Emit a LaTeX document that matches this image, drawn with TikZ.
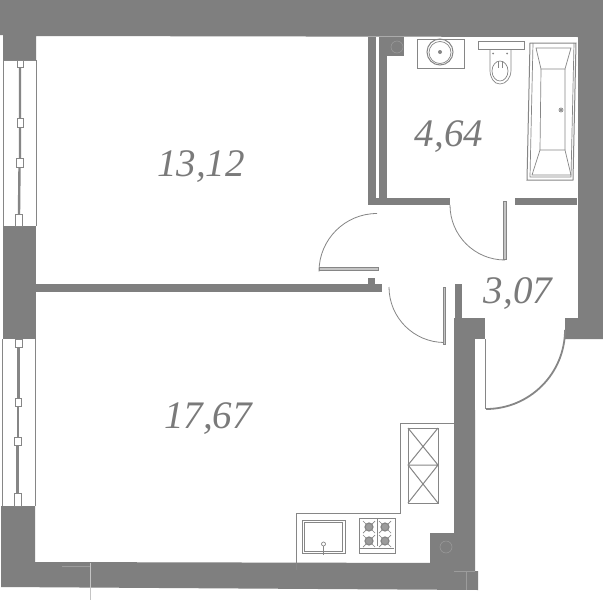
\documentclass[tikz,border=0pt]{standalone}
\usepackage{fontspec}
\setmainfont{Liberation Serif}
\definecolor{wallc}{HTML}{7F7F7F}
\definecolor{linec}{HTML}{868686}
\definecolor{faint}{HTML}{9C9C9C}
\definecolor{pale}{HTML}{C4C4C4}
\definecolor{txtc}{HTML}{7A7A7A}
\tikzset{
  wall/.style={fill=wallc,draw=none},
  thin line/.style={draw=linec,line width=0.7pt},
  fixture/.style={draw=linec,line width=1pt,fill=white},
  leaf/.style={draw=linec,line width=0.5pt,fill=pale},
  swing/.style={draw=linec,line width=0.8pt},
  seam/.style={draw=faint,line width=0.5pt},
  area/.style={text=txtc,font=\fontsize{39}{39}\selectfont\itshape,inner sep=0pt},
}
\begin{document}
\begin{tikzpicture}[x=1pt,y=-1pt]
\useasboundingbox (0,0) rectangle (603,600);
\fill[white] (0,0) rectangle (603,600);
% outer walls
\fill[wall] (0,0) -- (603,0) -- (603,339) -- (565,339) -- (565,318) -- (578,318) -- (578,37) -- (36,36) -- (36,60) -- (3,60) -- (3,35) -- (0,35) -- cycle;
\fill[wall] (3,226) rectangle (36,339);
\fill[wall] (1,506) -- (35,506) -- (35,562) -- (454,563) -- (454,410) -- (475,410) -- (475,571) -- (478,571) -- (478,590) -- (1,587) -- cycle;
\fill[wall] (454,423) rectangle (475,318);
\fill[wall] (454,318) rectangle (485,339);
\fill[wall] (455,284) rectangle (462,318);
\fill[wall] (430,533) rectangle (454,563);
% partition between rooms
\fill[wall] (36,284) rectangle (382,292);
\fill[wall] (368,278) rectangle (375,284);
% bathroom walls
\fill[wall] (368,37) rectangle (376,205);
\fill[wall] (379,37) rectangle (387,205);
\fill[wall] (379,37) rectangle (404,56);
\fill[wall] (368,198) rectangle (450,205);
\fill[wall] (515,198) rectangle (577,205);
\draw[seam] (397,47) circle[radius=6];
\draw[seam] (446,547) circle[radius=6];
\draw[seam] (454,571) -- (475,571) (466,571) -- (466,590);
\draw[pale,line width=0.5pt] (90,563) -- (90,600);
\draw[seam] (62,566) -- (90,566);
% upper window
\draw[thin line] (3,60) -- (3,226) (36,60) -- (36,226);
\draw[thin line] (3,60) -- (36,60);
\draw[linec,line width=2.4pt] (20,67) -- (20,118) (20,127) -- (20,158) (19.5,167) -- (19,214);
\draw[thin line,fill=white] (17,60) rectangle (23,67);
\draw[thin line,fill=white] (17,118) rectangle (23,127);
\draw[thin line,fill=white] (16.5,158) rectangle (23,167);
\draw[thin line,fill=white] (15.5,214) rectangle (22.5,226);
% lower window
\draw[thin line] (2,339) -- (2,506) (35,339) -- (35,506);
\draw[linec,line width=2.4pt] (18.5,347) -- (18.5,398) (18,406) -- (18,437) (17.5,445) -- (17.5,493);
\draw[thin line,fill=white] (15.5,339) rectangle (22,347);
\draw[thin line,fill=white] (15,398) rectangle (21.5,406);
\draw[thin line,fill=white] (14.5,437) rectangle (21,445);
\draw[thin line,fill=white] (14,493) rectangle (21,506);
% doors
\draw[swing] (450,205) arc[start angle=180,end angle=90,radius=55];
\draw[leaf] (503.5,201) rectangle (506,259);
\draw[swing] (377,213.5) arc[start angle=270,end angle=180,radius=58];
\draw[leaf] (319,267) rectangle (378,270);
\draw[swing] (389,287) arc[start angle=180,end angle=90,radius=55.5];
\draw[leaf] (443,287) rectangle (445.5,344);
\draw[linec,line width=1.8pt] (565,330) arc[start angle=0,end angle=90,radius=79];
\draw[thin line] (485,339) -- (485,409);
% kitchen counter
\draw[thin line] (296,570) -- (296,513) -- (400.5,513) -- (400.5,423) -- (454,423);
\draw[fixture] (408,428) rectangle (438,503);
\draw[linec,line width=1pt] (408,465) -- (438,465) (408,428) -- (438,465) (438,428) -- (408,465) (408,465) -- (438,503) (438,465) -- (408,503);
% kitchen sink
\draw[fixture] (302,520) rectangle (345,553);
\draw[fixture] (304.5,522.5) rectangle (342.5,551);
\draw[thin line] (323.5,546) -- (323.5,555);
\draw[thin line,fill=white] (323.5,544) circle[radius=2];
% stove
\draw[fixture,line width=0.8pt] (359,518) rectangle (395,553);
\draw[thin line] (360,548) -- (394,548) (377,519) -- (377,546);
\foreach \bx/\by in {369/527,385/527,369/541,385/541}{
  \draw[thin line] (\bx-6,\by-6) -- (\bx+6,\by+6) (\bx-6,\by+6) -- (\bx+6,\by-6);
  \draw[linec,line width=1.2pt,fill=faint] (\bx,\by) circle[radius=4];
}
% wash basin
\draw[thin line] (417,39) rectangle (464,68);
\draw[linec,line width=1pt] (440,52) circle[radius=13];
\draw[thin line] (440,52.5) circle[radius=11];
\fill[linec] (440,52) circle[radius=2];
% toilet
\draw[thin line] (478,41) rectangle (524,49.5);
\draw[thin line] (490,49.5) -- (490,70) .. controls (490,78) and (494,84) .. (500,84) .. controls (506,84) and (511,78) .. (511,70) -- (511,49.5);
\draw[thin line] (500,71) ellipse[x radius=8,y radius=10];
\draw[thin line] (498,61) -- (498,68) (502,68) -- (502,61);
\fill[linec] (493,53.5) circle[radius=1] (507,53.5) circle[radius=1];
% bath
\draw[thin line,line width=1pt] (530,43) -- (576,43) -- (573,180) -- (527,180) -- cycle;
\draw[thin line] (533,43) -- (530,177) -- (571,177) -- (574,43);
\draw[thin line] (536,48) -- (571,48) -- (565,69) -- (541,69) -- cycle;
\draw[thin line] (540,150) -- (565,150) -- (571,175) -- (532,175) -- cycle;
\draw[thin line] (541,69) -- (540,150) (565,69) -- (565,150);
\draw[thin line] (561,110) circle[radius=2];
\fill[linec] (561,110) circle[radius=1.4];
% areas
\node[area] (a1) at (201,167) {13,12};
\node[area] (a2) at (449,137) {4,64};
\node[area] (a3) at (518,294) {3,07};
\node[area] (a4) at (208,419) {17,67};
\end{tikzpicture}
\end{document}
